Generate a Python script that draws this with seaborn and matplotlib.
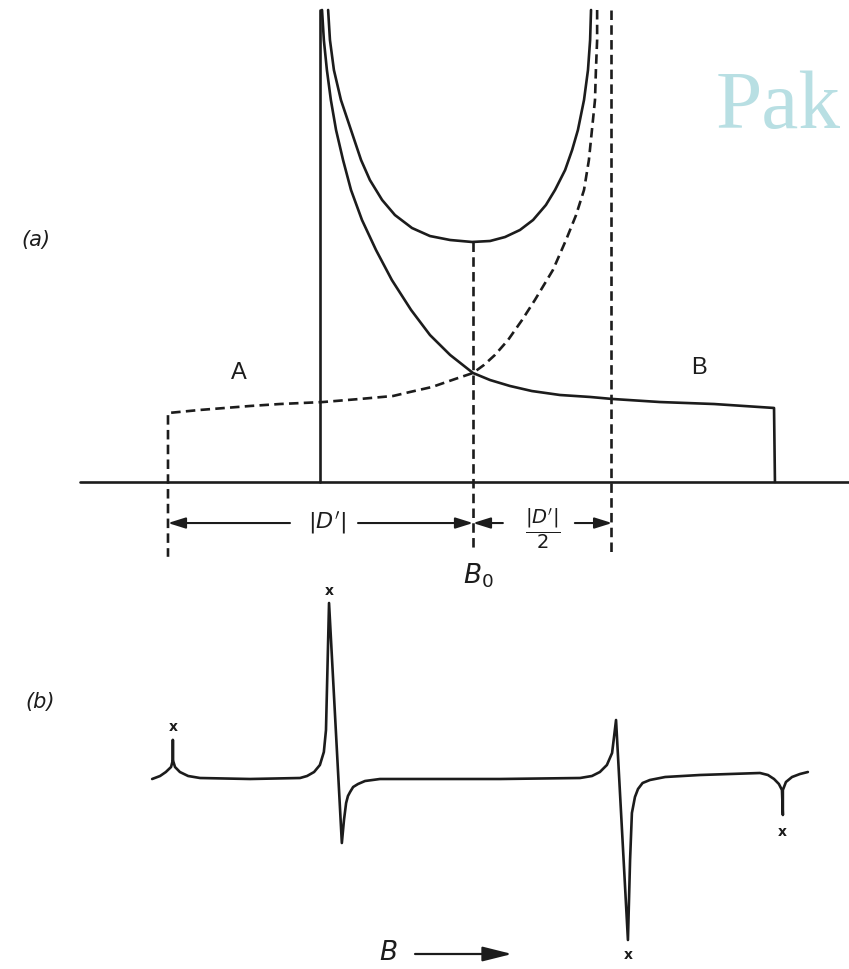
import matplotlib
matplotlib.use("Agg")
import matplotlib.pyplot as plt
import seaborn as sns

# ---------------------------------------------------------------
# Field axis: B - B0 in units of |D'|.
# (a) absorption intensity (arbitrary units), (b) first derivative.
# ---------------------------------------------------------------

# component B (solid): singularity at B0 - |D'|/2, step at B0 + |D'|
solid_field = [-0.495, -0.489, -0.479, -0.466, -0.449, -0.426, -0.400, -0.364,
               -0.318, -0.266, -0.203, -0.141, -0.075, 0.000, 0.056, 0.121,
               0.193, 0.285, 0.384, 0.456, 0.613, 0.790, 0.987, 0.990]
solid_int = [4.291, 4.018, 3.745, 3.473, 3.200, 2.927, 2.655, 2.382,
             2.109, 1.836, 1.564, 1.336, 1.155, 0.991, 0.927, 0.873,
             0.827, 0.791, 0.773, 0.755, 0.727, 0.709, 0.673, 0.0]

# left edge of component B (vertical rise at the singularity)
solid_edge_field = [-0.502, -0.502]
solid_edge_int = [0.0, 4.291]

# component A (dashed): singularity at B0 + |D'|/2, step at B0 - |D'|
dashed_field = [0.407, 0.407, 0.403, 0.400, 0.390, 0.380, 0.364, 0.338,
                0.305, 0.262, 0.203, 0.161, 0.115, 0.072, 0.036, 0.000,
                -0.059, -0.134, -0.207, -0.262, -0.370, -0.492, -0.633, -0.731,
                -0.895, -1.000, -1.000]
dashed_int = [4.291, 4.018, 3.745, 3.473, 3.200, 2.927, 2.655, 2.427,
              2.200, 1.927, 1.655, 1.473, 1.291, 1.155, 1.064, 0.991,
              0.936, 0.864, 0.818, 0.782, 0.755, 0.727, 0.709, 0.691,
              0.655, 0.627, -0.68]

# sum of the two components
sum_field = [-0.475, -0.469, -0.456, -0.433, -0.400, -0.367, -0.338, -0.298,
             -0.256, -0.200, -0.141, -0.075, -0.003, 0.056, 0.105, 0.154,
             0.197, 0.239, 0.269, 0.302, 0.325, 0.344, 0.364, 0.377,
             0.384, 0.387]
sum_int = [4.291, 4.018, 3.745, 3.473, 3.200, 2.927, 2.745, 2.564,
           2.427, 2.309, 2.236, 2.200, 2.182, 2.191, 2.227, 2.291,
           2.382, 2.518, 2.655, 2.836, 3.018, 3.200, 3.473, 3.745,
           4.018, 4.291]

# guide lines at B0 and B0 + |D'|/2
center_field = [0.0, 0.0]
center_int = [2.182, -0.60]
half_field = [0.452, 0.452]
half_int = [4.291, -0.66]

# base line of panel (a)
base_field = [-1.29, 1.233]
base_int = [0.0, 0.0]

# (b) derivative trace
deriv_field = [-1.052, -1.026, -1.007, -0.990, -0.984, -0.984, -0.984, -0.977,
               -0.961, -0.934, -0.895, -0.731, -0.567, -0.544, -0.521, -0.502,
               -0.489, -0.482, -0.472, -0.430, -0.423, -0.416, -0.410, -0.403,
               -0.393, -0.377, -0.354, -0.305, 0.089, 0.351, 0.390, 0.416,
               0.439, 0.456, 0.462, 0.469, 0.508, 0.515, 0.521, 0.531,
               0.541, 0.556, 0.580, 0.630, 0.744, 0.941, 0.967, 0.987,
               1.003, 1.013, 1.016, 1.016, 1.026, 1.046, 1.072, 1.098]
deriv_val = [-0.01, 0.02, 0.06, 0.11, 0.18, 0.38, 0.18, 0.11,
             0.06, 0.02, 0.00, -0.01, 0.00, 0.02, 0.06, 0.13,
             0.26, 0.48, 1.75, -0.65, -0.42, -0.25, -0.18, -0.14,
             -0.09, -0.06, -0.03, -0.01, -0.01, 0.00, 0.02, 0.06,
             0.13, 0.25, 0.40, 0.58, -1.62, -0.82, -0.35, -0.19,
             -0.11, -0.05, -0.02, 0.01, 0.03, 0.05, 0.03, -0.01,
             -0.06, -0.12, -0.37, -0.12, -0.04, 0.01, 0.04, 0.06]

# turning points marked with "x"
mark_field = [-0.984, -0.472, 0.508, 1.013]
mark_val = [0.51, 1.87, -1.77, -0.54]

# ---------------------------------------------------------------
sns.set_theme(style="white")
plt.rcParams["font.family"] = ["DejaVu Sans"]
plt.rcParams["mathtext.fontset"] = "dejavusans"

INK = "#1c1c1c"
LW = 1.9
DASH = (0, (3.6, 2.0))
XLIM = (-1.5508, 1.2328)

fig = plt.figure(figsize=(8.49, 9.69), dpi=100)
fig.patch.set_facecolor("white")
ax_a = fig.add_axes([0, 369 / 969, 1, 600 / 969])
ax_b = fig.add_axes([0, 0, 1, 369 / 969])
for ax in (ax_a, ax_b):
    ax.set_axis_off()
    ax.patch.set_alpha(0)
    ax.set_xlim(*XLIM)
ax_a.set_ylim(-1.0727, 4.3818)
ax_b.set_ylim(-1.91, 1.78)


def trace(ax, x, y, dashed=False):
    sns.lineplot(x=x, y=y, ax=ax, sort=False, estimator=None, color=INK,
                 linewidth=LW, linestyle=DASH if dashed else "-",
                 solid_joinstyle="round", dash_capstyle="butt")


# ---- panel (a)
trace(ax_a, base_field, base_int)
trace(ax_a, solid_edge_field, solid_edge_int)
trace(ax_a, solid_field, solid_int)
trace(ax_a, sum_field, sum_int)
trace(ax_a, dashed_field, dashed_int, dashed=True)
trace(ax_a, center_field, center_int, dashed=True)
trace(ax_a, half_field, half_int, dashed=True)

arrow_kw = dict(arrowstyle="-|>,head_length=0.7,head_width=0.22",
                color=INK, lw=1.5, mutation_scale=15, shrinkA=0, shrinkB=0)
y_arr = -0.373
left_end, mid, right_end = dashed_field[-1], center_field[0], 0.456
ax_a.annotate("", xy=(left_end, y_arr), xytext=(-0.60, y_arr), arrowprops=arrow_kw)
ax_a.annotate("", xy=(mid, y_arr), xytext=(-0.377, y_arr), arrowprops=arrow_kw)
ax_a.annotate("", xy=(mid, y_arr), xytext=(0.098, y_arr), arrowprops=arrow_kw)
ax_a.annotate("", xy=(right_end, y_arr), xytext=(0.334, y_arr), arrowprops=arrow_kw)

ax_a.text(-0.479, y_arr, r"$|D'|$", fontsize=16, color=INK, ha="center", va="center")
ax_a.text(0.230, y_arr - 0.06, r"$\dfrac{|D'|}{2}$", fontsize=14, color=INK,
          ha="center", va="center")
ax_a.text(0.016, -0.85, r"$B_0$", fontsize=19, color=INK, ha="center", va="center")
ax_a.text(-0.767, 0.99, "A", fontsize=17, color=INK, family="Liberation Sans",
          ha="center", va="center")
ax_a.text(0.741, 1.04, "B", fontsize=17, color=INK, family="Liberation Sans",
          ha="center", va="center")
ax_a.text(-1.433, 2.20, "(a)", fontsize=15, style="italic", color=INK,
          ha="center", va="center")

# ---- panel (b)
trace(ax_b, deriv_field, deriv_val)
for fx, fy in zip(mark_field, mark_val):
    ax_b.text(fx, fy, "x", fontsize=10, weight="bold", color=INK,
              ha="center", va="center")
ax_b.text(-1.420, 0.76, "(b)", fontsize=15, style="italic", color=INK,
          ha="center", va="center")
ax_b.text(-0.279, -1.75, r"$B$", fontsize=19, color=INK, ha="center", va="center")
ax_b.annotate("", xy=(0.128, -1.76), xytext=(-0.190, -1.76),
              arrowprops=dict(arrowstyle="-|>,head_length=1.2,head_width=0.3",
                              color=INK, lw=1.6, mutation_scale=15,
                              shrinkA=0, shrinkB=0))

# ---- faint title lettering in the upper right corner
fig.text(716 / 849, 1 - 128 / 969, "Pak", fontsize=60, color="#b8dfe3",
         family="Liberation Serif", ha="left", va="baseline")

fig.savefig("out.png", dpi=100, facecolor="white")
